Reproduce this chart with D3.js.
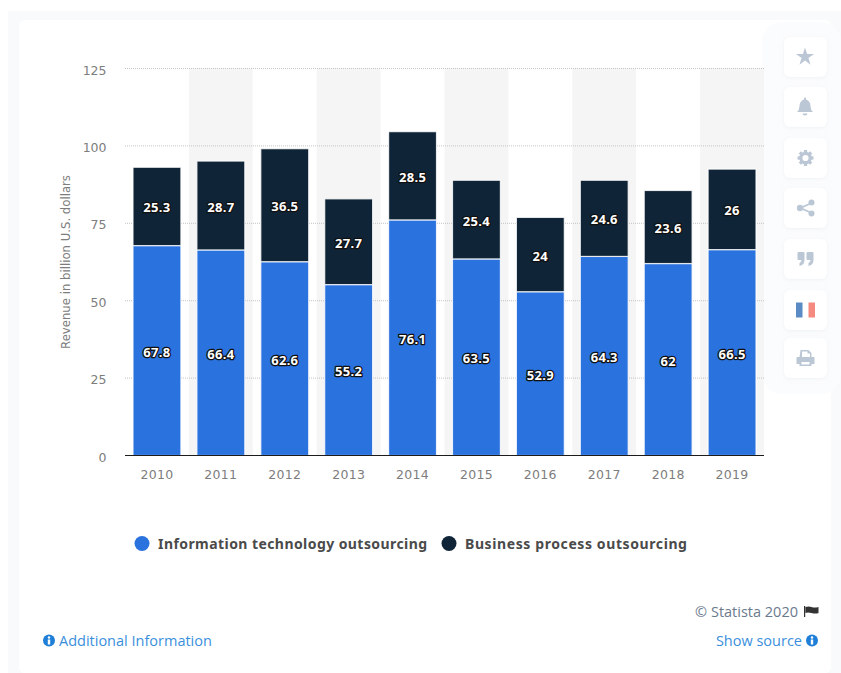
<!DOCTYPE html>
<html>
<head>
<meta charset="utf-8">
<style>
html,body{margin:0;padding:0;background:#fff;}
svg{display:block;}
text{font-family:"DejaVu Sans",sans-serif;}
.link{font-family:"Open Sans",sans-serif;}
.strong{font-family:"Noto Sans",sans-serif;font-weight:bold;}
</style>
<script src="https://cdn.jsdelivr.net/npm/d3@7/dist/d3.min.js"></script>
</head>
<body>
<svg id="chart" width="841" height="673"></svg>
<script>
// Global outsourcing revenue, split by segment
const years = ["2010","2011","2012","2013","2014","2015","2016","2017","2018","2019"];
const itOutsourcing = [67.8,66.4,62.6,55.2,76.1,63.5,52.9,64.3,62,66.5];
const bpOutsourcing = [25.3,28.7,36.5,27.7,28.5,25.4,24,24.6,23.6,26];
const seriesNames = ["Information technology outsourcing","Business process outsourcing"];
const seriesColors = ["#2a72de","#0f2537"];
const yTicks = [0,25,50,75,100,125];

const svg = d3.select("#chart");

// Page frame and card
svg.append("rect").attr("x",8).attr("y",11).attr("width",833).attr("height",662).attr("fill","#f9fafb");
svg.append("rect").attr("x",19).attr("y",20).attr("width",812).attr("height",653).attr("rx",6).attr("fill","#fff");
svg.append("rect").attr("x",762).attr("y",22).attr("width",79).attr("height",372).attr("rx",20).attr("fill","#fbfcfd");

const x = d3.scaleBand().domain(years).range([125,764]).paddingInner(0).paddingOuter(0);
const y = d3.scaleLinear().domain([0,125]).range([455.5,68.5]);
const barInset = 8;

// Alternating column bands
svg.append("g").selectAll("rect")
  .data(years.filter((d,i)=>i%2===1))
  .join("rect")
  .attr("x",d=>x(d)).attr("width",x.bandwidth())
  .attr("y",y(125)).attr("height",y(0)-y(125))
  .attr("fill","#f5f5f6");

// Value axis with dotted grid lines
const yAxis = d3.axisLeft(y).tickValues(yTicks).tickSize(0).tickPadding(0);
const yG = svg.append("g").attr("transform","translate(106.5,1.5)").call(yAxis);
yG.select(".domain").remove();
yG.selectAll("text").attr("fill","#7d7d7d").style("font-size","12.5px").style("font-family","'DejaVu Sans',sans-serif");

svg.append("g").selectAll("line")
  .data(yTicks.filter(d=>d>0))
  .join("line")
  .attr("x1",125).attr("x2",764)
  .attr("y1",d=>y(d)).attr("y2",d=>y(d))
  .attr("stroke","#c4c4c4").attr("stroke-width",1).attr("stroke-dasharray","1,1");

// Stacked bars
const stack = years.map((yr,i)=>({yr,it:itOutsourcing[i],bp:bpOutsourcing[i]}));
const barW = x.bandwidth()-2*barInset;
const bars = svg.append("g");
bars.selectAll("rect.it").data(stack).join("rect").attr("class","it")
  .attr("x",d=>x(d.yr)+barInset).attr("width",barW)
  .attr("y",d=>y(d.it)).attr("height",d=>y(0)-y(d.it))
  .attr("fill",seriesColors[0]).attr("stroke","#fff").attr("stroke-opacity",.8).attr("stroke-width",1.2);
bars.selectAll("rect.bp").data(stack).join("rect").attr("class","bp")
  .attr("x",d=>x(d.yr)+barInset).attr("width",barW)
  .attr("y",d=>y(d.it+d.bp)).attr("height",d=>y(d.it)-y(d.it+d.bp))
  .attr("fill",seriesColors[1]).attr("stroke","#fff").attr("stroke-opacity",.8).attr("stroke-width",1.2);

// Baseline
svg.append("line").attr("x1",125).attr("x2",764).attr("y1",y(0)).attr("y2",y(0))
  .attr("stroke","#1c1c1c").attr("stroke-width",1);

// Segment value labels with a dark outline
function valueLabels(cls,value,centre){
  svg.append("g").selectAll("text."+cls).data(stack).join("text").attr("class",cls+" strong")
    .attr("x",d=>x(d.yr)+x.bandwidth()/2)
    .attr("y",d=>y(centre(d))+1.5)
    .attr("dy","0.35em").attr("text-anchor","middle")
    .attr("fill","#fff").attr("stroke","#101010").attr("stroke-width",2.6)
    .attr("stroke-linejoin","round").attr("paint-order","stroke")
    .style("font-size","13px").style("letter-spacing","0.3px")
    .text(d=>value(d));
}
valueLabels("it-label",d=>d.it,d=>d.it/2);
valueLabels("bp-label",d=>d.bp,d=>d.it+d.bp/2);

// Category axis
const xAxis = d3.axisBottom(x).tickSize(0).tickPadding(0);
const xG = svg.append("g").attr("transform","translate(0,470.5)").call(xAxis);
xG.select(".domain").remove();
xG.selectAll("text").attr("fill","#7d7d7d").attr("dy","0.71em")
  .style("font-size","12.5px").style("letter-spacing","0.3px").style("font-family","'DejaVu Sans',sans-serif");

// Axis title
svg.append("text").attr("transform","translate(66,262) rotate(-90)")
  .attr("text-anchor","middle").attr("dy","0.35em")
  .attr("fill","#7d7d7d").style("font-size","11.7px")
  .text("Revenue in billion U.S. dollars");

// Legend
const legendX = [142,449];
const legendSpacing = ["0.43px","0.6px"];
const legend = svg.append("g").selectAll("g").data(seriesNames).join("g")
  .attr("transform",(d,i)=>`translate(${legendX[i]},543.5)`);
legend.append("circle").attr("r",7.5).attr("fill",(d,i)=>seriesColors[i]);
legend.append("text").attr("class","strong").attr("x",16).attr("y",0.7).attr("dy","0.35em")
  .attr("fill","#4a4a4a").style("font-size","14px").style("letter-spacing",(d,i)=>legendSpacing[i])
  .text(d=>d);

// Footer
const infoIcon = (cx,cy)=>{
  const g = svg.append("g").attr("transform",`translate(${cx},${cy})`);
  g.append("circle").attr("r",6).attr("fill","#1f7fd6");
  g.append("circle").attr("cy",-3).attr("r",1.2).attr("fill","#fff");
  g.append("rect").attr("x",-1.2).attr("y",-1).attr("width",2.4).attr("height",5).attr("fill","#fff");
};
infoIcon(49,640.5);
infoIcon(812,640.5);
svg.append("text").attr("class","link").attr("x",59).attr("y",645.5)
  .attr("fill","#3a8fdc").style("font-size","14.5px").text("Additional Information");
svg.append("text").attr("class","link").attr("x",802).attr("y",645.5).attr("text-anchor","end")
  .attr("fill","#3a8fdc").style("font-size","14.5px").text("Show source");
svg.append("text").attr("class","link").attr("x",798).attr("y",616.5).attr("text-anchor","end")
  .attr("fill","#6b7a8d").style("font-size","14.5px").text("© Statista 2020");
svg.append("path").attr("d","M804,606h1.2v11h-1.2z M805.5,607q3,-1 6,0t7,0v6q-3,1 -7,0t-6,0z").attr("fill","#333");

// Side toolbar
const buttonTops = [37,87,138,188,239,290,338];
const iconColor = "#bcc7d6";
const toolbar = svg.append("g");
const defs = svg.append("defs");
const shadow = defs.append("filter").attr("id","btn").attr("x","-30%").attr("y","-30%").attr("width","160%").attr("height","160%");
shadow.append("feDropShadow").attr("dx",0).attr("dy",1).attr("stdDeviation",2).attr("flood-color","#e6eaf0").attr("flood-opacity",.6);
toolbar.selectAll("rect").data(buttonTops).join("rect")
  .attr("x",784).attr("y",d=>d).attr("width",43).attr("height",40).attr("rx",6)
  .attr("fill","#fff").attr("filter","url(#btn)");

const cx = 805.5;
const iconAt = i => toolbar.append("g").attr("transform",`translate(${cx},${buttonTops[i]+20})`);
iconAt(0).append("path").attr("d",d3.symbol(d3.symbolStar,100)()).attr("transform","translate(-0.5,0)").attr("fill",iconColor);
const bell = iconAt(1);
bell.append("path").attr("d","M-8,5q2.5,-2 2.5,-6q0,-5 4.5,-6.5v-1a1,1 0 0 1 2,0v1q4.5,1.5 4.5,6.5q0,4 2.5,6z").attr("fill",iconColor).attr("transform","translate(-0.5,0)");
bell.append("path").attr("d","M-2.5,6.5h5a2.5,2 0 0 1 -5,0z").attr("fill",iconColor).attr("transform","translate(-0.5,0)");
const gear = iconAt(2);
gear.append("circle").attr("r",4.7).attr("fill","none").attr("stroke",iconColor).attr("stroke-width",3.2);
gear.selectAll("rect").data(d3.range(8)).join("rect")
  .attr("x",-1.6).attr("y",-8).attr("width",3.2).attr("height",3)
  .attr("transform",d=>`rotate(${d*45})`).attr("fill",iconColor);
const share = iconAt(3);
share.append("path").attr("d","M6,-5L-5,0L6,5").attr("fill","none").attr("stroke",iconColor).attr("stroke-width",1.8);
[[6,-5.5,3],[-5.5,0,3.2],[6,5.5,3]].forEach(p=>share.append("circle").attr("cx",p[0]).attr("cy",p[1]).attr("r",p[2]).attr("fill",iconColor));
const quote = iconAt(4);
[-8,1].forEach(dx=>quote.append("path")
  .attr("transform",`translate(${dx},-7)`)
  .attr("d","M0,1a1,1 0 0 1 1,-1h5a1,1 0 0 1 1,1v7q0,5 -5,6v-3q2,-1 2,-3h-3a1,1 0 0 1 -1,-1z")
  .attr("fill",iconColor));
const flag = iconAt(5);
flag.append("rect").attr("x",-9.5).attr("y",-7.5).attr("width",6.5).attr("height",15).attr("fill","#5b8bc4");
flag.append("rect").attr("x",3).attr("y",-7.5).attr("width",6.5).attr("height",15).attr("fill","#f58a80");
const printer = iconAt(6);
printer.append("path").attr("fill-rule","evenodd").attr("fill",iconColor)
  .attr("d","M-5,-8h8l3,3v4h2a1,1 0 0 1 1,1v6h-3v2h-12v-2h-3v-6a1,1 0 0 1 1,-1h2z M-3.5,-6.5v5.5h8v-3.5h-2.5v-2z M-4,4v2.5h8v-2.5z");
</script>
</body>
</html>
